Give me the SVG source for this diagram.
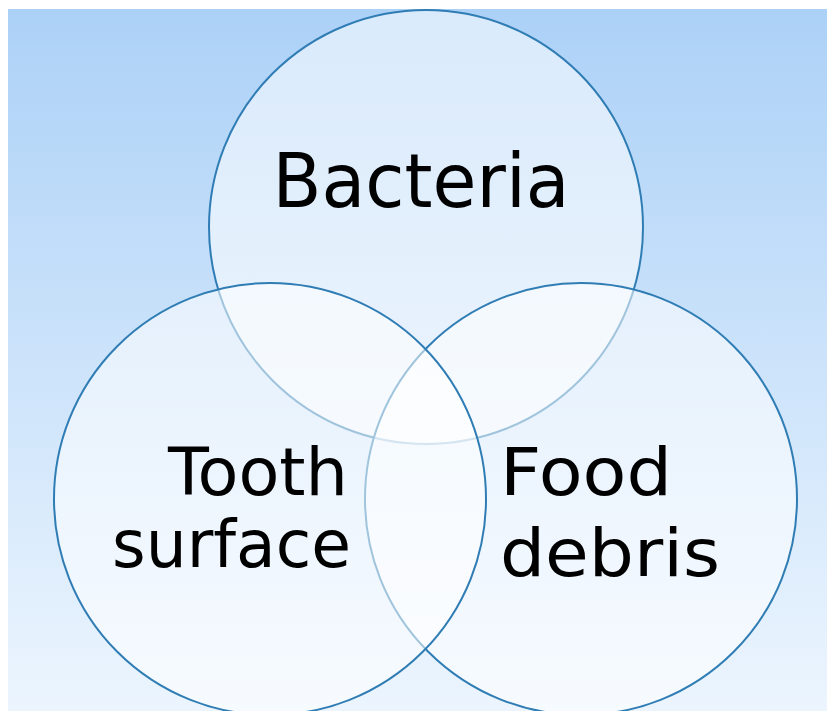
<svg xmlns="http://www.w3.org/2000/svg" width="827" height="711" viewBox="0 0 827 711">
<defs>
<linearGradient id="bg" x1="0" y1="0" x2="0" y2="1">
<stop offset="0" stop-color="#acd1f7"/>
<stop offset="1" stop-color="#ecf5fe"/>
</linearGradient>
<style>
.c{fill:#ffffff;fill-opacity:0.55;stroke:#2f7db4;stroke-width:2}
.t{font-family:"DejaVu Sans",Verdana,sans-serif;fill:#000}
</style>
</defs>
<rect x="0" y="0" width="827" height="711" fill="#ffffff"/>
<rect x="8" y="9" width="819" height="702" fill="url(#bg)"/>
<g id="bacteria">
<circle class="c" cx="426" cy="227" r="217"/>
<text class="t" x="421" y="207" font-size="74" text-anchor="middle" textLength="297" lengthAdjust="spacingAndGlyphs">Bacteria</text>
</g>
<g id="food-debris">
<circle class="c" cx="581" cy="499" r="216"/>
<text class="t" font-size="66"><tspan x="500" y="495" textLength="172" lengthAdjust="spacingAndGlyphs">Food</tspan><tspan x="500" y="576" textLength="220" lengthAdjust="spacingAndGlyphs">debris</tspan></text>
</g>
<g id="tooth-surface">
<circle class="c" cx="270" cy="499" r="216"/>
<text class="t" font-size="66" text-anchor="end"><tspan x="348" y="495" textLength="180" lengthAdjust="spacingAndGlyphs">Tooth</tspan><tspan x="351" y="567" textLength="239" lengthAdjust="spacingAndGlyphs">surface</tspan></text>
</g>
<g id="connectors"/>
</svg>
